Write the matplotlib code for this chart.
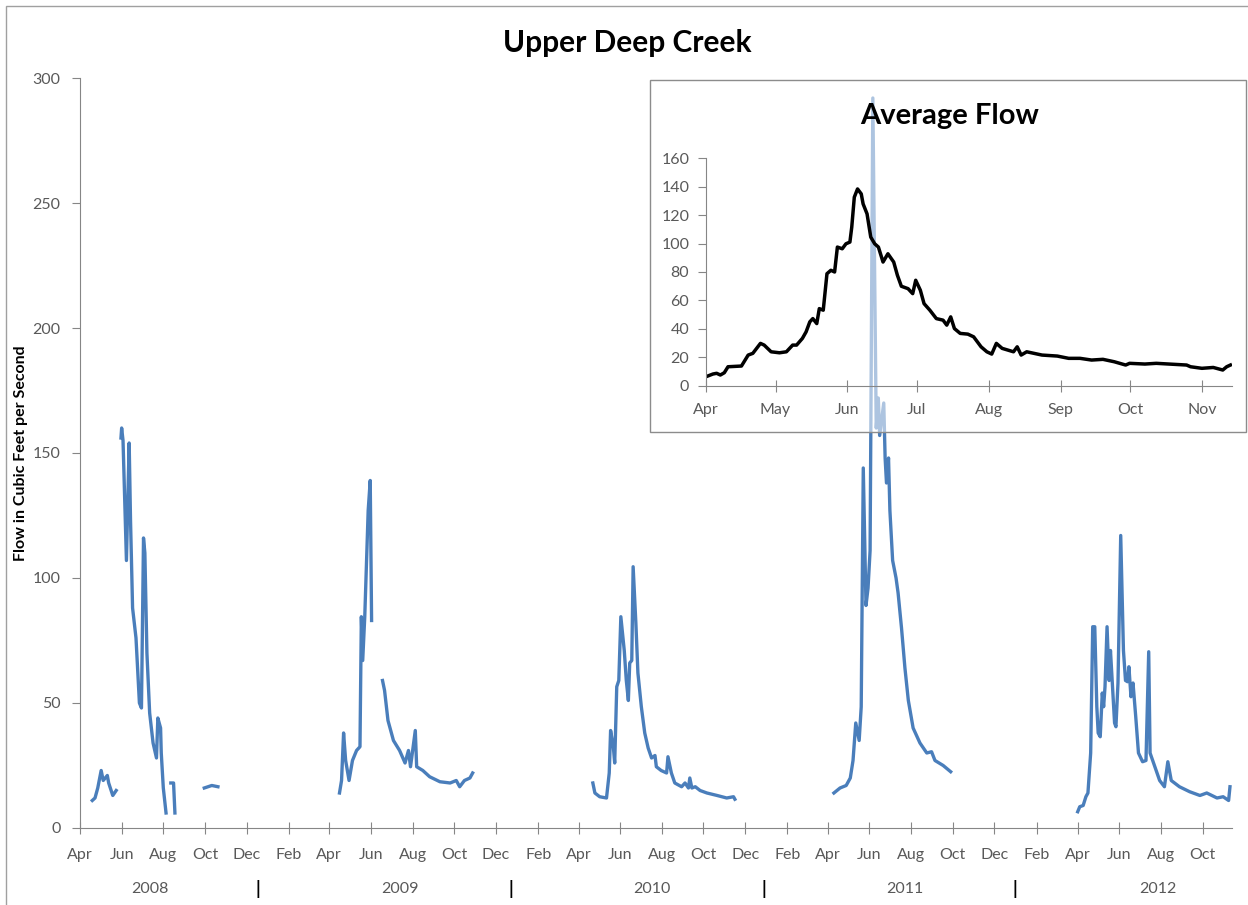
import numpy as np
import pandas as pd
import matplotlib
matplotlib.use("Agg")
import matplotlib.pyplot as plt
import matplotlib.dates as mdates
from matplotlib.patches import Rectangle
from matplotlib.transforms import blended_transform_factory

plt.rcParams["font.family"] = ["Lato", "DejaVu Sans"]

NA = np.nan

# daily flow readings (cfs), gaps marked with NA
dates_2008 = ["2008-04-19", "2008-04-23", "2008-04-27", "2008-05-02", "2008-05-05", "2008-05-11",
              "2008-05-13", "2008-05-19", "2008-05-24", "2008-05-28",
              "2008-05-31", "2008-06-01", "2008-06-03", "2008-06-08", "2008-06-12", "2008-06-14",
              "2008-06-17", "2008-06-22", "2008-06-27", "2008-06-30", "2008-07-03", "2008-07-05",
              "2008-07-08", "2008-07-12", "2008-07-17", "2008-07-22", "2008-07-24", "2008-07-28",
              "2008-07-29", "2008-08-01", "2008-08-05", "2008-08-09",
              "2008-08-12", "2008-08-16", "2008-08-18", "2008-09-10",
              "2008-09-30", "2008-10-11", "2008-10-20"]
flow_2008 = [11, 12, 16, 23, 19, 21, 18, 13, 15, NA,
             156, 160, 155, 107, 154, 123, 88, 76, 50, 48, 116, 110, 70, 46, 34, 28, 44, 40, 30, 16, 6, NA,
             18, 18, 6, NA,
             16, 17, 16.5]

dates_2009 = ["2009-04-16", "2009-04-19", "2009-04-22", "2009-04-25", "2009-04-30", "2009-05-05",
              "2009-05-11", "2009-05-16", "2009-05-18", "2009-05-20", "2009-05-23", "2009-05-28",
              "2009-05-31", "2009-06-02", "2009-06-10",
              "2009-06-18", "2009-06-21", "2009-06-26", "2009-07-04", "2009-07-13", "2009-07-21",
              "2009-07-26", "2009-07-29", "2009-08-05", "2009-08-07", "2009-08-16", "2009-08-26",
              "2009-09-10", "2009-09-25", "2009-10-04", "2009-10-09", "2009-10-16", "2009-10-24",
              "2009-10-28"]
flow_2009 = [14, 19, 38, 27, 19, 27, 31, 32.5, 84.5, 67, 84.5, 127, 139, 83, NA,
             59, 55, 43, 35, 31, 26, 31, 24.5, 39, 24.5, 23, 20.5, 18.5, 18, 19, 16.5, 19, 20, 22]

dates_2010 = ["2010-04-22", "2010-04-25", "2010-05-02", "2010-05-12", "2010-05-16", "2010-05-18",
              "2010-05-22", "2010-05-24", "2010-05-27", "2010-05-30", "2010-06-02", "2010-06-07",
              "2010-06-10", "2010-06-13", "2010-06-15", "2010-06-18", "2010-06-20", "2010-06-24",
              "2010-06-27", "2010-07-02", "2010-07-07", "2010-07-12", "2010-07-17", "2010-07-22",
              "2010-07-24", "2010-07-31", "2010-08-08", "2010-08-10", "2010-08-15", "2010-08-20",
              "2010-08-30", "2010-09-04", "2010-09-09", "2010-09-11", "2010-09-14", "2010-09-19",
              "2010-09-26", "2010-10-06", "2010-10-21", "2010-11-04", "2010-11-14", "2010-11-16"]
flow_2010 = [18, 14, 12.5, 12, 22, 39, 32.5, 26, 56.5, 59, 84.5, 71, 59, 51, 66, 67, 104.5, 82,
             62, 48.5, 38, 32, 28, 29, 24.5, 23, 22, 28.5, 22, 18, 16.5, 18, 16, 20, 16, 16.5,
             15, 14, 13, 12, 12.5, 11.5]

dates_2011 = ["2011-04-10", "2011-04-19", "2011-04-28", "2011-05-04", "2011-05-08", "2011-05-12",
              "2011-05-17", "2011-05-20", "2011-05-23", "2011-05-27", "2011-05-30", "2011-06-02",
              "2011-06-06", "2011-06-11", "2011-06-14", "2011-06-16", "2011-06-22", "2011-06-24",
              "2011-06-26", "2011-06-29", "2011-07-01", "2011-07-05", "2011-07-10", "2011-07-13",
              "2011-07-18", "2011-07-23", "2011-07-28", "2011-08-04", "2011-08-14", "2011-08-24",
              "2011-08-31", "2011-09-05", "2011-09-17", "2011-09-28"]
flow_2011 = [14, 16, 17, 20, 27, 42, 35, 48.5, 144, 89, 96, 111, 292, 160, 172, 157, 170, 148,
             138, 148, 127, 107, 100, 94, 80, 64, 51, 40, 34, 30, 30.5, 27, 25, 22.5]

dates_2012 = ["2012-04-01", "2012-04-04", "2012-04-09", "2012-04-13", "2012-04-16", "2012-04-20",
              "2012-04-23", "2012-04-26", "2012-04-29", "2012-05-01", "2012-05-04", "2012-05-07",
              "2012-05-09", "2012-05-11", "2012-05-14", "2012-05-17", "2012-05-19", "2012-05-22",
              "2012-05-25", "2012-05-27", "2012-05-30", "2012-06-03", "2012-06-07", "2012-06-10",
              "2012-06-13", "2012-06-15", "2012-06-18", "2012-06-21", "2012-06-25", "2012-06-29",
              "2012-07-05", "2012-07-10", "2012-07-14", "2012-07-16", "2012-07-23", "2012-07-30",
              "2012-08-06", "2012-08-11", "2012-08-16", "2012-08-28", "2012-09-12", "2012-09-27",
              "2012-10-07", "2012-10-22", "2012-10-31", "2012-11-08", "2012-11-10"]
flow_2012 = [6.5, 8.5, 9, 12.5, 14, 30, 80.5, 80.5, 48.5, 38, 36.5, 54, 48.5, 56.5, 80.5, 59, 71,
             56.5, 42, 40.5, 58, 117, 71, 59, 58.5, 64.5, 52.5, 58, 44.5, 30, 26.5, 27, 70.5, 30,
             24.5, 19, 16.5, 26.5, 19, 16.5, 14.5, 13, 14, 12, 12.5, 11, 16.5]

# average flow by day of season (days after Apr 1)
avg_days = [0, 3, 4.6, 6.2, 7.9, 9.5, 15.3, 18.2, 20.2, 23.5, 25.1, 28.1, 31.7, 34.7, 37.4, 39.1,
            41.6, 43.2, 44.8, 46.1, 47.8, 48.9, 50.6, 52.2, 53.9, 55.5, 56.7, 58.8, 60.4, 62.1,
            62.9, 64, 65.4, 67, 67.8, 69.5, 71.1, 72.8, 74.4, 76.4, 78.5, 81, 82.6, 84.3, 87.2,
            89.2, 90.5, 92.5, 94.1, 96.6, 99.4, 102.3, 103.9, 105.6, 107.2, 109.7, 113, 115.5,
            118.7, 121.2, 123.3, 125.3, 127.8, 132.7, 134.3, 136, 138.4, 145, 151.6, 156.5,
            161.4, 166.4, 171.3, 176.2, 181.1, 182.8, 189.4, 194.3, 207.4, 209.1, 214, 218.9,
            223, 224.7, 226.3]
avg_flow = [6.5, 8.4, 8.9, 7.7, 9.3, 13.5, 14, 21.7, 22.9, 29.9, 28.7, 24, 23.3, 24, 28.7, 28.7,
            33.4, 38, 45, 47.3, 43.8, 54.3, 53.2, 78.8, 81.2, 80, 97.5, 96.3, 99.8, 101, 111.5,
            132.5, 138.3, 134.8, 127.8, 120.8, 104.5, 99.8, 97.5, 87, 92.8, 87, 77.7, 70, 68.3,
            64.8, 74.2, 67.2, 57.8, 53.2, 47.3, 46.2, 42.7, 48.5, 40.3, 36.9, 36.4, 34.5, 27.5,
            24, 22.4, 29.9, 26.4, 24, 27.5, 21.7, 24, 21.7, 21, 19.4, 19.4, 18.2, 18.7, 17, 14.7,
            15.9, 15.4, 15.9, 14.7, 13.5, 12.4, 13, 11.2, 13.5, 14.7]

year_labels = ["2008", "2009", "2010", "2011", "2012"]
year_label_dates = ["2008-07-12", "2009-07-13", "2010-07-17", "2011-07-23", "2012-07-27"]
year_sep_dates = ["2008-12-17", "2009-12-23", "2010-12-28", "2011-12-31"]

blue = "#4a7ebb"
gray_txt = "#595959"
gray_ax = "#868686"

fig = plt.figure(figsize=(12.48, 9.05), dpi=100)
ax = fig.add_axes([0.0641, 0.0851, 0.9231, 0.8287])
ax.set_zorder(0)

for d, v in [(dates_2008, flow_2008), (dates_2009, flow_2009), (dates_2010, flow_2010),
             (dates_2011, flow_2011), (dates_2012, flow_2012)]:
    ax.plot(pd.to_datetime(d), v, color=blue, lw=2.4, solid_joinstyle="round")

ax.set_xlim(pd.Timestamp("2008-04-01"), pd.Timestamp("2012-11-13"))
ax.set_ylim(0, 300)
ax.set_yticks(range(0, 301, 50))
ax.xaxis.set_major_locator(mdates.MonthLocator(bymonth=[2, 4, 6, 8, 10, 12]))
ax.xaxis.set_major_formatter(mdates.DateFormatter("%b"))
for s in ["top", "right"]:
    ax.spines[s].set_visible(False)
for s in ["left", "bottom"]:
    ax.spines[s].set_color(gray_ax)
ax.tick_params(axis="x", direction="inout", length=9, color=gray_ax, labelcolor=gray_txt,
               labelsize=11.5, pad=10)
ax.tick_params(axis="y", direction="out", length=6, color=gray_ax, labelcolor=gray_txt,
               labelsize=11.5, pad=8)

tr = blended_transform_factory(ax.transData, ax.transAxes)
for lab, d in zip(year_labels, year_label_dates):
    ax.text(pd.Timestamp(d), -0.081, lab, transform=tr, ha="center", va="center",
            fontsize=11.5, color=gray_txt)
for d in year_sep_dates:
    ax.text(pd.Timestamp(d), -0.081, "|", transform=tr, ha="center", va="center",
            fontsize=13, color="black", fontweight="bold")

fig.text(0.503, 0.9525, "Upper Deep Creek", ha="center", va="center", fontsize=21.5,
         fontweight="bold")
fig.text(0.0165, 0.4994, "Flow in Cubic Feet per Second", rotation=90, ha="center",
         va="center", fontsize=11.5, fontweight="bold")

# inset box, semi-transparent so the main line shows through lighter
box = Rectangle((0.5208, 0.5227), 0.4776, 0.389, transform=fig.transFigure,
                facecolor="white", alpha=0.55, edgecolor="none", zorder=1)
fig.patches.append(box)
frame = Rectangle((0.5208, 0.5227), 0.4776, 0.389, transform=fig.transFigure,
                  facecolor="none", edgecolor="#8c8c8c", lw=1.0, zorder=1)
fig.patches.append(frame)

ins = fig.add_axes([0.5657, 0.5735, 0.4215, 0.2519])
ins.set_zorder(2)
ins.patch.set_alpha(0)
ins_dates = pd.Timestamp("2001-04-01") + pd.to_timedelta(avg_days, unit="D")
ins.plot(ins_dates, avg_flow, color="black", lw=2.5)
ins.set_xlim(pd.Timestamp("2001-04-01"), pd.Timestamp("2001-11-14"))
ins.set_ylim(0, 160)
ins.set_yticks(range(0, 161, 20))
ins.xaxis.set_major_locator(mdates.MonthLocator())
ins.xaxis.set_major_formatter(mdates.DateFormatter("%b"))
for s in ["top", "right"]:
    ins.spines[s].set_visible(False)
for s in ["left", "bottom"]:
    ins.spines[s].set_color(gray_ax)
ins.tick_params(axis="x", direction="inout", length=9, color=gray_ax, labelcolor=gray_txt,
                labelsize=11.5, pad=8)
ins.tick_params(axis="y", direction="out", length=6, color=gray_ax, labelcolor=gray_txt,
                labelsize=11.5, pad=6)
fig.text(0.761, 0.8718, "Average Flow", ha="center", va="center", fontsize=21,
         fontweight="bold")

# chart area border
fig.patches.append(Rectangle((0.0045, -0.01), 1.0, 1.003, transform=fig.transFigure,
                             facecolor="none", edgecolor="#a0a0a0", lw=1.0, zorder=3))

fig.savefig("out.png", dpi=100)
